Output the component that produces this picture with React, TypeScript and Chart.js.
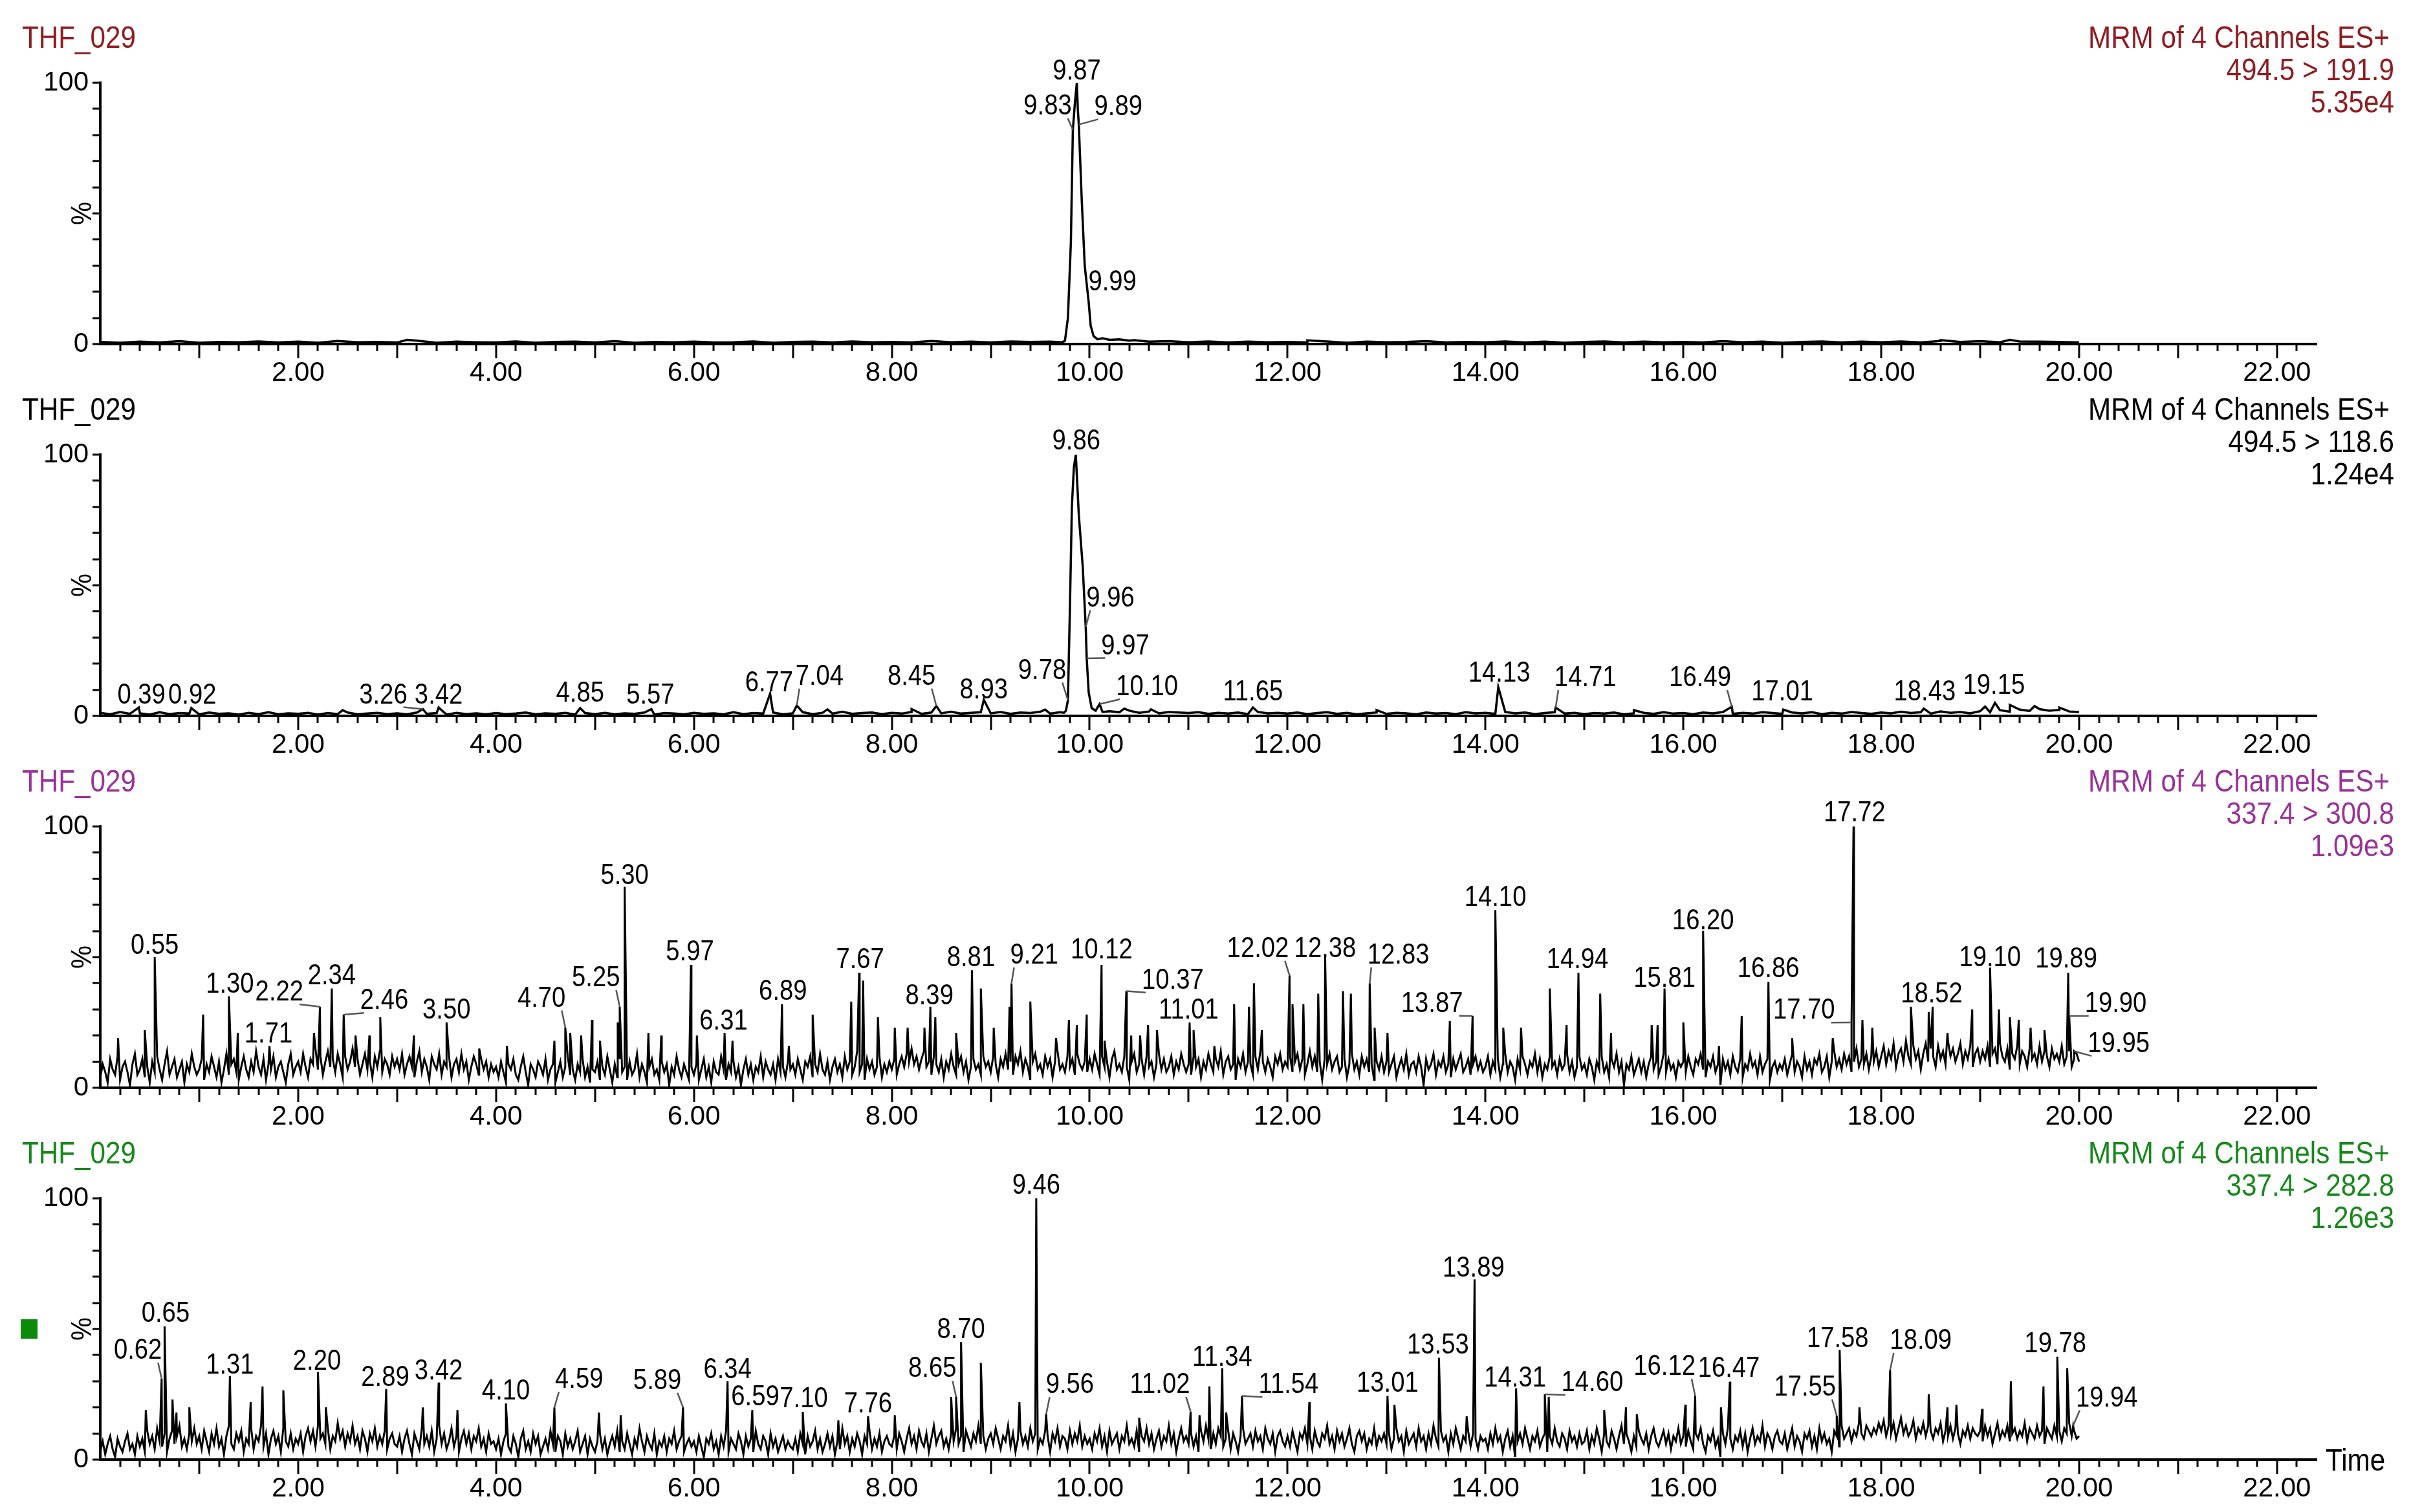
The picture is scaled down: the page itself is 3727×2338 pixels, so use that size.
import React, { useEffect, useRef } from "react";
import { Chart, registerables } from "chart.js";

Chart.register(...registerables);

// ---------- text content ----------
const SAMPLE_NAME = "THF_029";
const SCAN_TITLE = "MRM of 4 Channels ES+";
const TRANSITIONS = ["494.5 > 191.9", "494.5 > 118.6", "337.4 > 300.8", "337.4 > 282.8"];
const INTENSITIES = ["5.35e4", "1.24e4", "1.09e3", "1.26e3"];
const X_TICKS = [2, 4, 6, 8, 10, 12, 14, 16, 18, 20, 22];
const Y_TICKS = [0, 100];
const X_MAX = 22.4;

// ---------- panel 1 : 494.5 > 191.9 (baseline every 0.2 min) ----------
const P1_STEP = 0.2;
const P1_BASE = [
  0.8, 0.5, 0.9, 0.6, 1.1, 0.5, 0.8, 0.7, 1.0, 0.6,
  0.9, 0.5, 1.2, 0.7, 0.8, 0.6, 1.3, 0.5, 0.9, 0.7,
  0.6, 1.0, 0.5, 0.8, 0.9, 0.6, 1.1, 0.5, 0.8, 0.7,
  0.9, 0.6, 0.7, 1.0, 0.5, 0.8, 0.9, 0.6, 1.0, 0.7,
  0.8, 0.6, 1.2, 0.7, 0.9, 0.6, 1.0, 0.8, 0.9, null,
  null, 1.6, 1.3, 0.9, 1.1, 0.7, 1.0, 0.6, 0.9, 0.7,
  0.8, 0.6, 1.0, 0.5, 0.9, 0.7, 0.8, 1.1, 0.6, 0.8,
  0.7, 1.0, 0.6, 0.9, 0.5, 0.8, 1.0, 0.6, 0.9, 0.7,
  0.8, 0.6, 1.1, 0.7, 0.9, 0.5, 0.8, 1.0, 0.6, 0.9,
  0.7, 1.0, 0.6, 1.2, 0.8, 1.1, 0.7, 1.0, 0.9, 0.8,
  0.6,
];
const P1_PEAKS = [
  [3.1, 1.6], [9.72, 0.7], [9.75, 1.2], [9.78, 10], [9.81, 39], [9.83, 82], [9.85, 92],
  [9.87, 100], [9.88, 90], [9.89, 84], [9.92, 55], [9.95, 30], [9.99, 16], [10.01, 7],
  [10.04, 3], [10.08, 1.8], [10.13, 2.2], [10.3, 1.8], [10.45, 1.5], [12.2, 1.4],
  [18.6, 1.5], [19.3, 1.6],
];
// [retention time, height at anchor, label centre time, label centre %]
const P1_LABELS = [
  [9.87, 100, 9.87, 105.3], [9.83, 82, 9.575, 91.8], [9.89, 84, 10.29, 91.5], [9.99, 16, 10.23, 24.6],
];

// ---------- panel 2 : 494.5 > 118.6 (baseline every 0.1 min) ----------
const P2_STEP = 0.1;
const P2_BASE = [
  1.2, 0.6, 1.5, 0.8, 1.0, 0.5, 1.4, 0.7, 1.1, 0.9,
  0.6, 1.3, 0.8, 1.0, 0.5, 1.2, 0.7, 1.4, 0.6, 1.0,
  0.8, 1.2, 0.5, 1.1, 0.7, 1.3, 0.6, 0.9, 1.2, 0.7,
  1.0, 0.6, 1.3, 0.8, 1.1, 0.5, 1.2, 0.7, 1.0, 0.6,
  1.1, 0.7, 0.9, 1.3, 0.6, 1.0, 0.8, 1.2, 0.5, 1.1,
  0.7, 1.2, 0.6, 1.0, 0.8, 1.3, 0.5, 1.1, 0.9, 0.6,
  1.2, 0.8, 1.0, 0.6, 1.4, 0.7, 1.1, 0.9, 1.3, 0.6,
  1.0, 1.4, 0.7, 1.2, 0.9, 1.6, 0.8, 1.1, 1.3, 0.7,
  1.2, 0.9, 1.5, 0.8, 1.3, 1.0, 1.6, 0.9, 1.2, 1.4,
  1.0, 1.5, 0.8, 1.3, 1.1, 1.6, 0.9, 1.4, null, null,
  null, null, 1.8, 1.4, 2.0, 1.2, 1.7, 1.0, 1.5, 1.3,
  1.1, 1.4, 0.8, 1.2, 0.9, 1.3, 0.7, 1.5, 1.0, 1.2,
  0.9, 1.3, 0.7, 1.1, 1.4, 0.8, 1.2, 0.6, 1.0, 1.3,
  0.8, 1.2, 1.0, 0.6, 1.3, 0.9, 1.1, 0.7, 1.4, 1.0,
  1.2, 0.8, 1.5, 1.0, 1.3, 0.7, 1.1, 1.4, 0.9, 1.2,
  0.7, 1.1, 0.9, 1.3, 0.6, 1.0, 1.2, 0.8, 1.4, 0.9,
  1.1, 0.7, 1.3, 1.0, 1.5, 0.8, 1.2, 0.9, 1.4, 1.1,
  0.8, 1.3, 1.0, 1.4, 0.7, 1.2, 0.9, 1.5, 1.1, 0.8,
  1.3, 1.0, 1.6, 1.1, 1.4, 0.9, 1.7, 1.2, 1.5, 1.0,
  1.8, 1.4, 2.2, 1.6, 2.4, 1.9, 2.6, 2.0, 2.3, 1.7,
  1.5,
];
const P2_PEAKS = [
  [0.39, 3.2], [0.92, 3.0], [2.45, 2.2], [3.26, 2.6], [3.42, 3.2], [4.85, 3.0], [5.57, 2.6],
  [6.77, 8.5], [7.04, 4.0], [7.35, 2.5], [8.2, 2.6], [8.45, 3.8], [8.93, 6.2], [9.55, 2.4],
  [9.74, 1.2], [9.76, 2.0], [9.78, 6.0], [9.8, 41], [9.82, 80], [9.84, 95], [9.86, 100],
  [9.89, 77], [9.93, 57], [9.96, 34], [9.97, 22], [9.99, 9], [10.02, 3], [10.06, 2],
  [10.1, 4.5], [10.13, 1.5], [10.35, 2.8], [10.62, 2.5], [11.65, 3.2], [12.9, 2.2],
  [14.13, 11], [14.71, 3.2], [15.5, 2.2], [16.49, 3.5], [17.01, 2.4], [18.43, 2.8],
  [19.05, 3.6], [19.15, 5.0], [19.3, 4.2], [19.55, 3.8], [19.8, 3.2],
];
const P2_LABELS = [
  [0.39, 3.2, 0.416, 8.8], [0.92, 3.0, 0.93, 8.8], [3.26, 2.6, 2.86, 8.8], [3.42, 3.2, 3.42, 8.8],
  [4.85, 3.0, 4.85, 9.4], [5.57, 2.6, 5.56, 8.8], [6.77, 8.5, 6.76, 13.5], [7.04, 4.0, 7.27, 15.9],
  [8.45, 3.8, 8.2, 15.9], [8.93, 6.2, 8.93, 10.6], [9.78, 6, 9.52, 18.2], [9.86, 100, 9.865, 105.9],
  [9.96, 34, 10.21, 45.9], [9.97, 22, 10.36, 27.6], [10.1, 4.5, 10.58, 11.8], [11.65, 3.2, 11.65, 10],
  [14.13, 11, 14.14, 17.1], [14.71, 3.2, 15.01, 15.3], [16.49, 3.5, 16.17, 15.3], [17.01, 2.4, 17.0, 10],
  [18.43, 2.8, 18.44, 10], [19.15, 5, 19.14, 12.4],
];

// ---------- panel 3 : 337.4 > 300.8 (baseline every 0.025 min, one row per minute) ----------
const P3_STEP = 0.025;
const P3_BASE = [
  4, 9, 6, 2, 11, 7, 5, 12, 3, 8, 10, 6, 1, 9, 13, 5, 7, 11, 4, 8, 2, 10, 6, 12, 7, 3, 9, 14, 5, 8, 11, 4, 7, 10, 2, 9, 6, 13, 8, 5,
  7, 11, 3, 9, 6, 12, 8, 4, 10, 2, 7, 13, 5, 9, 11, 6, 3, 8, 12, 7, 4, 10, 6, 14, 8, 5, 11, 3, 9, 7, 12, 4, 8, 10, 6, 2, 9, 13, 5, 8,
  10, 6, 13, 8, 4, 11, 9, 15, 7, 12, 5, 10, 14, 8, 11, 6, 13, 9, 4, 12, 7, 10, 15, 8, 11, 5, 9, 13, 7, 10, 4, 12, 8, 14, 6, 11, 9, 5, 12, 8,
  11, 7, 13, 5, 9, 12, 8, 4, 10, 14, 6, 11, 8, 3, 12, 9, 7, 13, 5, 10, 8, 12, 4, 9, 11, 6, 13, 7, 10, 3, 8, 12, 9, 5, 11, 7, 10, 4, 9, 6,
  8, 4, 10, 6, 2, 9, 7, 11, 5, 3, 8, 12, 6, 1, 9, 7, 4, 10, 8, 5, 11, 3, 7, 9, 2, 6, 10, 4, 8, 12, 5, 7, 3, 9, 6, 11, 4, 8, 2, 7,
  6, 10, 3, 8, 5, 12, 7, 2, 9, 4, 11, 6, 8, 3, 10, 5, 7, 13, 4, 9, 6, 2, 8, 11, 5, 7, 3, 10, 6, 9, 1, 8, 5, 12, 7, 4, 9, 6, 3, 8,
  5, 9, 3, 7, 11, 4, 8, 2, 10, 6, 5, 12, 7, 3, 9, 6, 10, 4, 8, 1, 7, 11, 5, 9, 3, 8, 6, 12, 4, 10, 7, 5, 9, 3, 11, 6, 8, 4, 10, 7,
  9, 5, 11, 7, 3, 10, 8, 12, 4, 9, 6, 13, 7, 5, 10, 3, 8, 11, 6, 9, 4, 12, 7, 10, 5, 8, 14, 6, 9, 3, 11, 7, 10, 5, 8, 12, 4, 9, 6, 10,
  7, 11, 5, 9, 12, 8, 13, 10, 15, 9, 12, 7, 11, 14, 8, 10, 5, 12, 9, 6, 11, 4, 10, 7, 13, 8, 5, 9, 12, 6, 10, 3, 8, 11, 7, 9, 5, 12, 8, 10,
  6, 12, 9, 4, 11, 8, 13, 7, 10, 5, 12, 9, 14, 6, 11, 8, 3, 10, 13, 7, 9, 5, 12, 8, 11, 4, 10, 14, 7, 9, 6, 12, 8, 11, 5, 13, 9, 7, 10, 6,
  11, 7, 13, 9, 5, 12, 8, 10, 4, 11, 14, 7, 9, 6, 12, 8, 3, 10, 13, 6, 9, 11, 5, 12, 8, 10, 4, 9, 13, 7, 11, 6, 8, 12, 5, 10, 7, 13, 9, 6,
  9, 5, 12, 8, 11, 4, 10, 7, 13, 9, 6, 11, 8, 14, 5, 10, 12, 7, 9, 3, 11, 8, 13, 6, 10, 9, 5, 12, 7, 14, 10, 6, 11, 8, 4, 12, 9, 13, 7, 10,
  8, 12, 6, 10, 13, 7, 11, 5, 9, 14, 8, 12, 6, 10, 3, 11, 9, 13, 7, 10, 12, 6, 8, 11, 4, 9, 13, 7, 10, 5, 12, 8, 11, 6, 9, 3, 10, 7, 12, 6,
  10, 6, 9, 12, 4, 8, 11, 7, 13, 5, 9, 10, 6, 12, 8, 1, 11, 7, 9, 13, 5, 10, 8, 12, 6, 9, 4, 11, 7, 10, 13, 6, 8, 11, 5, 9, 12, 7, 10, 6,
  8, 12, 5, 10, 7, 11, 4, 9, 13, 6, 10, 8, 3, 11, 7, 12, 9, 5, 10, 8, 13, 6, 11, 4, 9, 7, 12, 8, 10, 5, 11, 7, 9, 13, 6, 10, 4, 8, 12, 7,
  9, 5, 11, 8, 3, 10, 7, 12, 6, 9, 4, 11, 8, 13, 6, 10, 1, 9, 7, 12, 5, 8, 11, 6, 10, 4, 9, 12, 7, 10, 5, 8, 13, 6, 11, 7, 9, 4, 10, 8,
  10, 6, 12, 8, 5, 11, 9, 13, 7, 4, 10, 8, 12, 6, 9, 1, 11, 7, 10, 5, 12, 8, 6, 11, 4, 9, 7, 13, 8, 10, 5, 12, 6, 9, 11, 3, 8, 10, 6, 9,
  7, 11, 5, 9, 13, 6, 10, 8, 4, 12, 7, 10, 5, 11, 9, 13, 6, 8, 12, 4, 10, 14, 8, 11, 7, 13, 9, 12, 6, 10, 15, 8, 11, 9, 13, 7, 12, 10, 14, 8,
  12, 16, 9, 14, 11, 17, 8, 13, 15, 10, 18, 12, 9, 16, 11, 14, 7, 13, 17, 10, 15, 12, 8, 16, 11, 14, 9, 18, 12, 15, 10, 13, 17, 9, 14, 11, 16, 8, 13, 15,
  10, 14, 11, 16, 8, 13, 15, 9, 17, 12, 10, 15, 7, 13, 11, 16, 9, 14, 12, 8, 15, 11, 13, 9, 16, 10, 14, 12, 8, 15, 11, 13, 10, 16, 9, 12, 14, 8, 11, 13,
  10,
];
const P3_PEAKS = [
  [0.18, 19], [0.45, 22], [0.55, 50], [1.04, 28], [1.3, 35], [1.39, 21], [1.71, 16], [2.16, 21],
  [2.22, 31], [2.34, 38], [2.46, 28], [2.58, 20], [2.72, 20], [2.83, 27], [3.17, 20], [3.5, 25],
  [3.83, 15], [4.11, 16], [4.59, 18], [4.7, 23], [4.75, 21], [4.86, 20], [4.97, 26], [5.05, 18],
  [5.23, 25], [5.25, 31], [5.3, 77], [5.54, 21], [5.67, 20], [5.97, 47], [6.03, 20], [6.31, 21],
  [6.39, 18], [6.89, 32], [6.96, 16], [7.2, 28], [7.59, 33], [7.67, 44], [7.71, 41], [7.86, 27],
  [8.03, 23], [8.16, 23], [8.33, 23], [8.39, 31], [8.44, 27], [8.65, 21], [8.81, 45], [8.9, 38],
  [9.03, 23], [9.19, 31], [9.21, 40], [9.4, 33], [9.66, 19], [9.79, 26], [9.87, 24], [9.97, 28],
  [10.12, 47], [10.15, 18], [10.37, 37], [10.42, 20], [10.51, 20], [10.59, 24], [10.68, 22],
  [11.01, 25], [11.05, 22], [11.26, 16], [11.46, 32], [11.61, 31], [11.66, 40], [11.74, 22],
  [12.02, 43], [12.05, 32], [12.16, 32], [12.31, 36], [12.38, 50], [12.56, 37], [12.64, 36],
  [12.83, 40], [12.88, 23], [13.01, 21], [13.64, 25.5], [13.87, 27.5], [14.1, 68], [14.18, 23],
  [14.36, 23], [14.65, 38], [14.82, 24], [14.94, 44], [15.16, 36], [15.27, 21], [15.68, 24],
  [15.74, 24], [15.81, 38], [16.0, 25], [16.2, 60], [16.36, 16], [16.59, 27.5], [16.86, 40.5],
  [17.1, 19], [17.51, 19], [17.7, 25], [17.72, 100], [17.81, 26], [17.91, 23], [18.3, 31],
  [18.48, 29], [18.52, 31], [18.67, 21], [18.92, 30], [19.1, 46], [19.19, 30], [19.3, 27],
  [19.39, 26], [19.51, 23], [19.65, 22], [19.89, 44], [19.9, 27.5], [19.95, 14],
];
const P3_LABELS = [
  [0.55, 50, 0.55, 55.2], [1.3, 35, 1.31, 40.3], [2.22, 31, 1.81, 37.4], [2.34, 38, 2.34, 43.6],
  [1.71, 16, 1.7, 21.4], [2.46, 28, 2.87, 34.1], [3.5, 25, 3.5, 30.4], [4.7, 23, 4.46, 35],
  [5.25, 31, 5.01, 42.8], [5.3, 77, 5.3, 82], [5.97, 47, 5.96, 52.7], [6.31, 21, 6.3, 26.3],
  [6.89, 32, 6.9, 37.7], [7.67, 44, 7.68, 49.8], [8.39, 31, 8.38, 35.8], [8.81, 45, 8.8, 50.6],
  [9.21, 40, 9.44, 51.5], [10.12, 47, 10.12, 53.4], [10.37, 37, 10.84, 41.9], [11.01, 25, 11.0, 30.4],
  [12.02, 43, 11.7, 54], [12.38, 50, 12.38, 54], [12.83, 40, 13.12, 51.5], [13.87, 27.5, 13.46, 33],
  [14.1, 68, 14.1, 73.6], [14.94, 44, 14.93, 49.7], [15.81, 38, 15.81, 42.6], [16.2, 60, 16.2, 64.7],
  [16.86, 40.5, 16.86, 46.3], [17.7, 25, 17.22, 30.4], [17.72, 100, 17.73, 105.9], [18.52, 31, 18.51, 36.6],
  [19.1, 46, 19.1, 50.6], [19.89, 44, 19.87, 50], [19.9, 27.5, 20.37, 32.9], [19.95, 14, 20.4, 17.6],
];

// ---------- panel 4 : 337.4 > 282.8 (baseline every 0.025 min, one row per minute) ----------
const P4_STEP = 0.025;
const P4_BASE = [
  3, 7, 2, 6, 9, 4, 1, 8, 5, 3, 7, 10, 4, 6, 2, 9, 5, 8, 3, 11, 6, 9, 4, 12, 7, 5, 10, 3, 8, 11, 6, 9, 13, 5, 8, 4, 10, 7, 12, 6,
  9, 4, 11, 7, 3, 10, 6, 12, 5, 8, 2, 9, 13, 6, 4, 10, 7, 11, 3, 8, 6, 12, 4, 9, 7, 13, 5, 10, 2, 8, 11, 6, 9, 3, 12, 7, 5, 10, 4, 8,
  6, 10, 3, 9, 12, 7, 11, 5, 13, 8, 10, 6, 12, 4, 9, 7, 14, 8, 11, 5, 10, 7, 13, 6, 9, 4, 11, 8, 3, 10, 7, 12, 5, 9, 6, 11, 4, 8, 10, 6,
  5, 9, 3, 8, 11, 6, 2, 10, 7, 4, 12, 6, 9, 5, 11, 3, 8, 13, 6, 10, 4, 7, 12, 5, 9, 3, 8, 11, 6, 10, 4, 9, 7, 12, 5, 8, 3, 10, 6, 7,
  4, 8, 2, 7, 10, 5, 3, 9, 6, 1, 8, 11, 4, 7, 3, 10, 6, 9, 2, 5, 8, 4, 11, 6, 3, 9, 7, 2, 10, 5, 8, 4, 7, 11, 3, 6, 9, 2, 8, 5,
  3, 7, 10, 4, 8, 2, 6, 9, 5, 11, 3, 7, 4, 10, 6, 2, 8, 5, 12, 7, 3, 9, 6, 4, 10, 2, 7, 5, 9, 3, 8, 6, 11, 4, 7, 9, 3, 6, 8, 5,
  7, 3, 9, 5, 1, 8, 6, 10, 4, 7, 2, 9, 5, 11, 3, 8, 6, 4, 10, 7, 2, 9, 5, 8, 3, 11, 6, 4, 9, 7, 2, 10, 5, 8, 3, 6, 9, 4, 7, 5,
  4, 8, 3, 10, 6, 2, 9, 5, 7, 11, 4, 8, 3, 6, 10, 5, 9, 2, 7, 4, 12, 6, 9, 3, 8, 5, 10, 7, 2, 9, 6, 11, 4, 8, 5, 10, 3, 7, 9, 6,
  5, 9, 4, 10, 7, 3, 8, 12, 6, 9, 4, 11, 7, 5, 10, 3, 8, 13, 6, 9, 11, 5, 8, 4, 10, 7, 12, 6, 9, 3, 11, 8, 5, 10, 7, 13, 6, 9, 4, 8,
  10, 6, 12, 8, 4, 9, 7, 13, 5, 10, 3, 8, 11, 6, 9, 5, 12, 7, 10, 4, 8, 6, 11, 9, 3, 10, 7, 12, 5, 9, 8, 4, 11, 6, 10, 7, 13, 5, 9, 6,
  8, 4, 10, 7, 12, 5, 9, 3, 11, 6, 8, 10, 4, 9, 7, 13, 6, 8, 5, 11, 3, 9, 7, 12, 6, 10, 4, 8, 11, 5, 9, 7, 13, 6, 10, 3, 8, 12, 7, 9,
  6, 10, 5, 9, 3, 11, 7, 13, 8, 4, 10, 6, 12, 9, 5, 8, 11, 4, 10, 7, 3, 9, 12, 6, 8, 10, 5, 11, 7, 9, 4, 12, 8, 6, 10, 3, 9, 11, 7, 5,
  9, 5, 11, 7, 3, 10, 8, 12, 6, 9, 4, 11, 7, 5, 10, 8, 13, 6, 9, 4, 11, 7, 10, 5, 8, 12, 6, 3, 9, 11, 7, 10, 4, 8, 6, 12, 5, 9, 7, 10,
  6, 10, 4, 8, 12, 7, 9, 3, 11, 6, 8, 10, 5, 12, 7, 9, 4, 10, 6, 13, 8, 5, 11, 7, 9, 3, 10, 6, 12, 8, 4, 9, 7, 11, 5, 10, 8, 4, 9, 7,
  8, 4, 10, 6, 12, 7, 9, 3, 8, 11, 5, 9, 1, 7, 10, 6, 12, 8, 4, 9, 7, 11, 5, 8, 10, 3, 9, 6, 12, 7, 5, 10, 8, 4, 11, 7, 9, 5, 10, 6,
  7, 11, 4, 9, 6, 12, 8, 3, 10, 7, 5, 11, 8, 4, 9, 13, 6, 10, 7, 3, 9, 5, 11, 8, 6, 10, 4, 9, 12, 7, 5, 8, 11, 6, 10, 4, 9, 7, 12, 6,
  9, 5, 11, 7, 4, 10, 8, 12, 6, 3, 9, 7, 11, 5, 8, 1, 10, 6, 12, 8, 4, 9, 7, 11, 5, 10, 3, 8, 12, 6, 9, 7, 13, 5, 10, 8, 4, 9, 11, 7,
  6, 10, 4, 8, 12, 5, 9, 7, 3, 10, 8, 11, 5, 9, 4, 12, 7, 10, 6, 8, 3, 11, 9, 5, 13, 8, 10, 12, 7, 11, 9, 14, 10, 8, 13, 11, 9, 12, 10, 14,
  11, 15, 9, 13, 10, 14, 8, 12, 16, 10, 13, 9, 11, 15, 8, 12, 10, 14, 9, 13, 11, 8, 12, 10, 14, 7, 11, 9, 13, 8, 12, 10, 6, 11, 9, 13, 8, 12, 10, 9,
  11, 7, 13, 9, 12, 6, 10, 14, 8, 11, 9, 13, 7, 10, 12, 8, 11, 9, 14, 7, 12, 10, 8, 13, 9, 11, 6, 12, 10, 8, 13, 9, 11, 7, 12, 10, 14, 9, 11, 8,
  9,
];
const P4_PEAKS = [
  [0.46, 19], [0.62, 31], [0.65, 51], [0.73, 23], [0.77, 18], [0.9, 20], [1.31, 32], [1.52, 22],
  [1.64, 28], [1.85, 26.5], [2.2, 33.5], [2.28, 20], [2.89, 27], [3.26, 20], [3.42, 29.5],
  [3.61, 19], [4.1, 21.5], [4.59, 20], [5.04, 18], [5.26, 17], [5.89, 20], [6.34, 30], [6.59, 19],
  [7.1, 18.3], [7.46, 15], [7.76, 16.6], [8.03, 17], [8.6, 24], [8.65, 24], [8.7, 45], [8.9, 37],
  [9.29, 22], [9.46, 100], [9.56, 17.4], [10.5, 16], [11.02, 18.4], [11.11, 17], [11.21, 28],
  [11.34, 35], [11.38, 18], [11.54, 24.4], [12.22, 22], [13.01, 24.4], [13.08, 21], [13.53, 39],
  [13.81, 16.6], [13.89, 69], [14.31, 27.3], [14.6, 25], [14.64, 24], [15.2, 19], [15.42, 20],
  [15.53, 17.4], [16.02, 21], [16.12, 24.4], [16.38, 20], [16.47, 29.8], [17.55, 16.8], [17.58, 42],
  [17.78, 20], [18.09, 34.3], [18.48, 25], [18.67, 20], [18.76, 21], [19.02, 19.4], [19.31, 30],
  [19.64, 28], [19.78, 39.4], [19.88, 35], [19.94, 13],
];
const P4_LABELS = [
  [0.62, 31, 0.38, 42.6], [0.65, 51, 0.66, 56.6], [1.31, 32, 1.31, 37], [2.2, 33.5, 2.19, 38.5],
  [2.89, 27, 2.88, 32.3], [3.42, 29.5, 3.42, 34.8], [4.1, 21.5, 4.1, 26.9], [4.59, 20, 4.84, 31.4],
  [5.89, 20, 5.63, 31], [6.34, 30, 6.34, 35.2], [6.59, 19, 6.62, 24.8], [7.1, 18.3, 7.11, 24],
  [7.76, 16.6, 7.76, 22], [8.65, 24, 8.41, 35.6], [8.7, 45, 8.7, 50.4], [9.46, 100, 9.46, 105.7],
  [9.56, 17.4, 9.8, 29.4], [11.02, 18.4, 10.71, 29.4], [11.34, 35, 11.34, 40], [11.54, 24.4, 12.01, 29.4],
  [13.01, 24.4, 13.01, 30], [13.53, 39, 13.52, 44.7], [13.89, 69, 13.88, 74], [14.31, 27.3, 14.3, 31.9],
  [14.6, 25, 15.08, 30.2], [16.12, 24.4, 15.81, 36.4], [16.47, 29.8, 16.46, 35.6], [17.55, 16.8, 17.23, 28.5],
  [17.58, 42, 17.56, 47.1], [18.09, 34.3, 18.4, 46.3], [19.78, 39.4, 19.76, 45], [19.94, 13, 20.28, 24.3],
];

// ---------- styling / layout ----------
const FONT = '"Liberation Sans", Arial, Helvetica, sans-serif';
const PANEL_COLORS = ["#8f1d21", "#000000", "#993399", "#17881b"];
const W = 3727;
const PANEL_H = 620;
const PANEL_GAP = 575;
const PAD_TOP = 128;
const AREA_LEFT = 155;
const PAD_RIGHT = 146;
const X_AXIS_H = 88;

const PANELS = [
  { step: P1_STEP, base: P1_BASE, peaks: P1_PEAKS, labels: P1_LABELS, lw: 3.5 },
  { step: P2_STEP, base: P2_BASE, peaks: P2_PEAKS, labels: P2_LABELS, lw: 3.5 },
  { step: P3_STEP, base: P3_BASE, peaks: P3_PEAKS, labels: P3_LABELS, lw: 3 },
  { step: P4_STEP, base: P4_BASE, peaks: P4_PEAKS, labels: P4_LABELS, lw: 3 },
];

function buildTrace(step: number, base: any[], peaks: number[][]) {
  const pts: { x: number; y: number }[] = [];
  base.forEach((v, i) => {
    if (v !== null) pts.push({ x: Math.round(i * step * 1000) / 1000, y: v });
  });
  peaks.forEach(([x, y]) => pts.push({ x, y }));
  pts.sort((a, b) => a.x - b.x);
  return pts;
}

function drawText(ctx: any, s: string, x: number, y: number, size: number, align: string, color: string, sx: number) {
  ctx.save();
  ctx.font = `${size}px ${FONT}`;
  ctx.fillStyle = color;
  ctx.textBaseline = "alphabetic";
  ctx.textAlign = align;
  ctx.translate(x, y + size * 0.358);
  ctx.scale(sx, 1);
  ctx.fillText(s, 0, 0);
  ctx.restore();
}

function textWidth(ctx: any, s: string, size: number, sx: number) {
  ctx.save();
  ctx.font = `${size}px ${FONT}`;
  const w = ctx.measureText(s).width * sx;
  ctx.restore();
  return w;
}

function makeDecor(i: number) {
  return {
    id: "decor" + i,
    afterDraw(chart: any) {
      const ctx = chart.ctx;
      const a = chart.chartArea;
      const xs = chart.scales.x;
      const ys = chart.scales.y;
      const col = PANEL_COLORS[i];
      ctx.save();
      // tick marks
      ctx.strokeStyle = "#000";
      ctx.lineWidth = 3;
      ctx.beginPath();
      for (let k = 1; k * 0.2 < X_MAX - 0.1; k++) {
        const px = Math.round(xs.getPixelForValue(k * 0.2));
        const len = k % 5 === 0 ? 22 : 11;
        ctx.moveTo(px, a.bottom);
        ctx.lineTo(px, a.bottom + len);
      }
      for (let k = 0; k <= 10; k++) {
        const py = Math.round(ys.getPixelForValue(k * 10));
        ctx.moveTo(a.left - 12, py);
        ctx.lineTo(a.left, py);
      }
      ctx.stroke();

      // "%" axis title
      ctx.save();
      ctx.translate(125, ys.getPixelForValue(50));
      ctx.rotate(-Math.PI / 2);
      drawText(ctx, "%", 0, 0, 45, "center", "#000", 0.9);
      ctx.restore();

      // header texts
      drawText(ctx, SAMPLE_NAME, 34, 57, 48, "left", col, 0.88);
      drawText(ctx, SCAN_TITLE, 3694, 57, 48, "right", col, 0.88);
      drawText(ctx, TRANSITIONS[i], 3701, 107, 48, "right", col, 0.88);
      drawText(ctx, INTENSITIES[i], 3701, 157, 48, "right", col, 0.88);

      // peak labels
      const LS = 45;
      const LSX = 0.85;
      for (const [rt, h, lx, ly] of PANELS[i].labels) {
        const text = rt.toFixed(2);
        const px = xs.getPixelForValue(rt);
        const py = ys.getPixelForValue(h);
        const cx = xs.getPixelForValue(lx);
        const cy = ys.getPixelForValue(ly);
        const w = textWidth(ctx, text, LS, LSX);
        const left = cx - w / 2;
        const right = cx + w / 2;
        const bottom = cy + 16;
        const inside = px >= left && px <= right && py - bottom < 20;
        if (!inside) {
          const ex = Math.min(Math.max(px, left + 6), right - 6);
          const ey = bottom + 6;
          ctx.strokeStyle = "#555";
          ctx.lineWidth = 2.5;
          ctx.beginPath();
          ctx.moveTo(px, py);
          ctx.lineTo(ex, ey);
          ctx.stroke();
        }
        drawText(ctx, text, cx, cy, LS, "center", "#000", LSX);
      }

      if (i === 3) {
        ctx.fillStyle = "#0b8a0b";
        ctx.fillRect(32, ys.getPixelForValue(50) - 15, 26, 30);
        drawText(ctx, "Time", 3595, a.bottom, 48, "left", "#000", 0.88);
      }
      ctx.restore();
    },
  };
}

function Panel({ idx }: { idx: number }) {
  const ref = useRef<HTMLCanvasElement | null>(null);
  useEffect(() => {
    const p = PANELS[idx];
    const tickFont = { family: FONT, size: 42 };
    const chart = new Chart(ref.current as any, {
      type: "line",
      data: {
        datasets: [
          {
            data: buildTrace(p.step, p.base, p.peaks) as any,
            borderColor: "#000",
            borderWidth: p.lw,
            pointRadius: 0,
            tension: 0,
            fill: false,
          },
        ],
      },
      options: {
        animation: false,
        responsive: false,
        maintainAspectRatio: false,
        devicePixelRatio: 1,
        layout: { padding: { top: PAD_TOP, right: PAD_RIGHT, left: 0, bottom: 0 } },
        plugins: { legend: { display: false }, tooltip: { enabled: false } },
        scales: {
          x: {
            type: "linear",
            min: 0,
            max: X_MAX,
            afterBuildTicks: (s: any) => {
              s.ticks = X_TICKS.map((v) => ({ value: v }));
            },
            afterFit: (s: any) => {
              s.height = X_AXIS_H;
            },
            ticks: {
              autoSkip: false,
              maxRotation: 0,
              padding: 20,
              color: "#000",
              font: tickFont,
              callback: (v: any) => Number(v).toFixed(2),
            },
            grid: { display: false, drawTicks: false },
            border: { display: true, width: 4, color: "#000" },
          },
          y: {
            type: "linear",
            min: 0,
            max: 100,
            afterBuildTicks: (s: any) => {
              s.ticks = Y_TICKS.map((v) => ({ value: v }));
            },
            afterFit: (s: any) => {
              s.width = AREA_LEFT;
            },
            ticks: {
              padding: 18,
              color: "#000",
              font: tickFont,
              callback: (v: any) => String(v),
            },
            grid: { display: false, drawTicks: false },
            border: { display: true, width: 4, color: "#000" },
          },
        },
      } as any,
      plugins: [makeDecor(idx)],
    });
    return () => chart.destroy();
  }, [idx]);
  return (
    <canvas
      ref={ref}
      width={W}
      height={PANEL_H}
      style={{ position: "absolute", left: 0, top: idx * PANEL_GAP, width: W, height: PANEL_H }}
    />
  );
}

export default function App() {
  return (
    <div
      style={{
        position: "fixed",
        left: 0,
        top: 0,
        width: W,
        height: 2338,
        background: "#fff",
        overflow: "hidden",
      }}
    >
      {[0, 1, 2, 3].map((i) => (
        <Panel key={i} idx={i} />
      ))}
    </div>
  );
}
